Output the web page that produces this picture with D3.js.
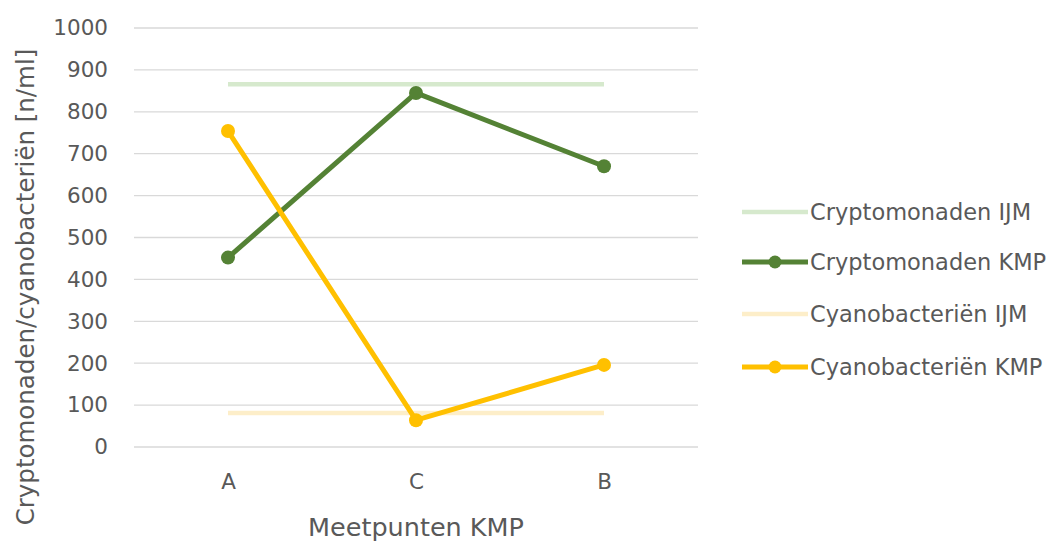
<!DOCTYPE html>
<html><head><meta charset="utf-8">
<script src="https://cdn.jsdelivr.net/npm/d3@7"></script>
<style>body{margin:0;background:#fff;}svg{display:block;font-family:"DejaVu Sans",sans-serif;}</style>
</head><body>
<svg id="chart" width="1064" height="547"></svg>
<script>
const categories = ["A", "C", "B"];
const cryptoKMP = [452, 845, 670];
const cyanoKMP = [754, 64, 196];
const cryptoIJM = [866, 866, 866];
const cyanoIJM = [81, 81, 81];
const yTicks = [0, 100, 200, 300, 400, 500, 600, 700, 800, 900, 1000];
const seriesNames = ["Cryptomonaden IJM", "Cryptomonaden KMP", "Cyanobacteriën IJM", "Cyanobacteriën KMP"];

const svg = d3.select("#chart");
const m = {left: 134, right: 698, top: 28, bottom: 447};
const x = d3.scalePoint().domain(categories).range([m.left, m.right]).padding(0.5);
const y = d3.scaleLinear().domain([0, 1000]).range([m.bottom, m.top]);
const textCol = "#595959";
const font = '"DejaVu Sans",sans-serif';

// gridlines
svg.append("g").selectAll("line").data(yTicks).join("line")
  .attr("x1", m.left).attr("x2", m.right)
  .attr("y1", d => y(d)).attr("y2", d => y(d))
  .attr("stroke", "#d9d9d9").attr("stroke-width", 1.3);

// y axis labels
const yAxis = d3.axisLeft(y).tickValues(yTicks).tickSize(0).tickPadding(0).tickFormat(d3.format("d"));
const ga = svg.append("g").attr("transform", `translate(108,0)`).call(yAxis);
ga.select(".domain").remove();
ga.selectAll("text").attr("fill", textCol).style("font-size", "21.5px").style("font-family", font);

// x axis labels
const xAxis = d3.axisBottom(x).tickSize(0).tickPadding(0);
const gx = svg.append("g").attr("transform", `translate(0,474)`).call(xAxis);
gx.select(".domain").remove();
gx.selectAll("text").attr("fill", textCol).style("font-size", "21.5px").style("font-family", font);

const series = [
  {name: seriesNames[0], vals: cryptoIJM, color: "#d6e9cd", w: 4.5, marker: false},
  {name: seriesNames[1], vals: cryptoKMP, color: "#548235", w: 5, marker: true},
  {name: seriesNames[2], vals: cyanoIJM, color: "#fdeec9", w: 4.5, marker: false},
  {name: seriesNames[3], vals: cyanoKMP, color: "#ffc000", w: 5, marker: true}
];
const line = d3.line().x((d, i) => x(categories[i])).y(d => y(d));

const drawOrder = [0, 2, 1, 3];
drawOrder.forEach(k => {
  const s = series[k];
  svg.append("path").datum(s.vals).attr("d", line)
    .attr("fill", "none").attr("stroke", s.color).attr("stroke-width", s.w)
    .attr("stroke-linejoin", "round");
  if (s.marker) {
    svg.append("g").selectAll("circle").data(s.vals).join("circle")
      .attr("cx", (d, i) => x(categories[i])).attr("cy", d => y(d))
      .attr("r", 7).attr("fill", s.color);
  }
});

// legend
const legY = [212, 262, 314, 367];
series.forEach((s, i) => {
  const g = svg.append("g").attr("transform", `translate(742,${legY[i]})`);
  g.append("line").attr("x1", 0).attr("x2", 66).attr("y1", 0).attr("y2", 0)
    .attr("stroke", s.color).attr("stroke-width", s.w);
  if (s.marker) g.append("circle").attr("cx", 33).attr("cy", 0).attr("r", 6.5).attr("fill", s.color);
  g.append("text").attr("x", 68).attr("y", 0).attr("dy", "0.36em")
    .attr("fill", textCol).style("font-size", "22.5px").text(s.name);
});

// axis titles
svg.append("text").attr("x", x("C")).attr("y", 536).attr("text-anchor", "middle")
  .attr("fill", textCol).style("font-size", "25.5px").text("Meetpunten KMP");
svg.append("text").attr("transform", `translate(34,287) rotate(-90)`)
  .attr("text-anchor", "middle").attr("fill", textCol).style("font-size", "24.5px")
  .text("Cryptomonaden/cyanobacteriën [n/ml]");
</script>
</body></html>
